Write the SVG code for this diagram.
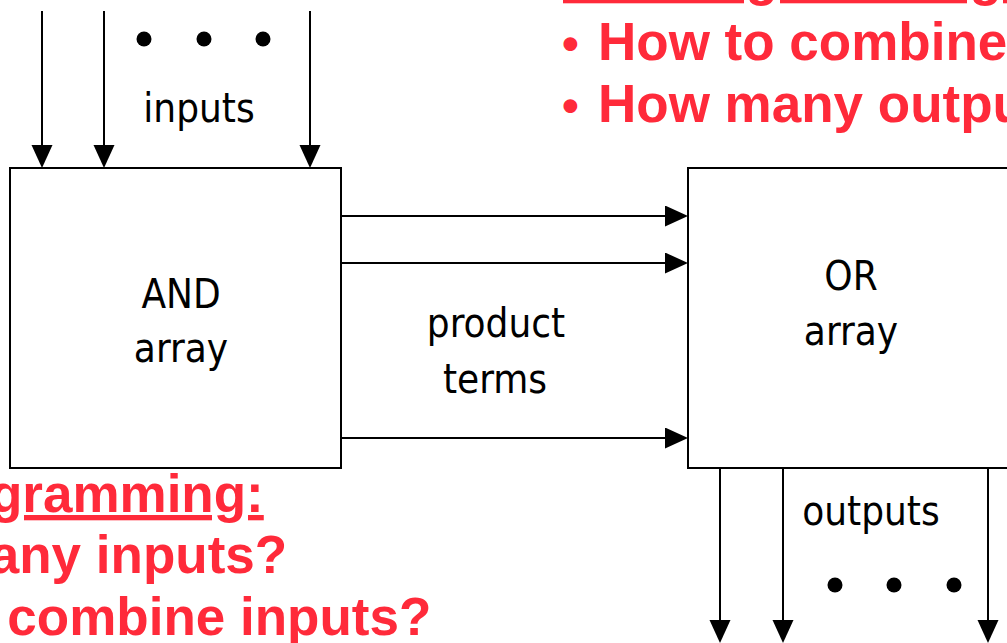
<svg xmlns="http://www.w3.org/2000/svg" width="1007" height="643" viewBox="0 0 1007 643">
<style>
.box{fill:#ffffff;stroke:#000000;stroke-width:2}
.wire{stroke:#000000;stroke-width:2;fill:none}
.lbl{font-family:"DejaVu Sans Condensed","DejaVu Sans",sans-serif;font-stretch:condensed;font-size:40px;fill:#000000;text-anchor:middle}
.red{font-family:"Liberation Sans",Arial,sans-serif;font-weight:bold;font-size:53px;fill:#ff2a3a}
.hd{text-decoration:underline}
.bul{font-size:48px}
.dot{fill:#000000}
</style>
<defs>
<marker id="ah" markerUnits="userSpaceOnUse" markerWidth="24" markerHeight="22" viewBox="0 0 24 22" refX="10" refY="10.5" orient="auto">
<path d="M0,0 L23,10.5 L0,21 Z" fill="#000000"/>
</marker>
</defs>
<rect width="1007" height="643" fill="#ffffff"/>
<g id="and-array">
<rect class="box" x="10" y="168" width="331" height="300"/>
<text class="lbl" x="181" y="308">AND</text>
<text class="lbl" x="181" y="362">array</text>
</g>
<g id="or-array">
<rect class="box" x="688" y="168" width="400" height="300"/>
<text class="lbl" x="851" y="290">OR</text>
<text class="lbl" x="851" y="345">array</text>
</g>
<g id="connectors">
<line class="wire" x1="42" y1="11" x2="42" y2="155" marker-end="url(#ah)"/>
<line class="wire" x1="104" y1="11" x2="104" y2="155" marker-end="url(#ah)"/>
<line class="wire" x1="310" y1="11" x2="310" y2="155" marker-end="url(#ah)"/>
<line class="wire" x1="341" y1="216" x2="675" y2="216" marker-end="url(#ah)"/>
<line class="wire" x1="341" y1="263" x2="675" y2="263" marker-end="url(#ah)"/>
<line class="wire" x1="341" y1="438" x2="675" y2="438" marker-end="url(#ah)"/>
<line class="wire" x1="720" y1="468" x2="720" y2="630" marker-end="url(#ah)"/>
<line class="wire" x1="783" y1="468" x2="783" y2="630" marker-end="url(#ah)"/>
<line class="wire" x1="988" y1="468" x2="988" y2="630" marker-end="url(#ah)"/>
</g>
<g id="inputs-label">
<circle class="dot" cx="144" cy="39" r="7.5"/>
<circle class="dot" cx="204" cy="39" r="7.5"/>
<circle class="dot" cx="263" cy="39" r="7.5"/>
<text class="lbl" x="199" y="122">inputs</text>
</g>
<g id="product-terms-label">
<text class="lbl" x="496" y="337">product</text>
<text class="lbl" x="495" y="393">terms</text>
</g>
<g id="outputs-label">
<text class="lbl" x="871" y="525">outputs</text>
<circle class="dot" cx="835" cy="585" r="7.5"/>
<circle class="dot" cx="894" cy="585" r="7.5"/>
<circle class="dot" cx="954" cy="585" r="7.5"/>
</g>
<g id="or-programming-note">
<text class="red hd" x="563" y="-5">OR Programming:</text>
<text class="red" x="562" y="60"><tspan class="bul">•</tspan><tspan x="598">How to combine inputs?</tspan></text>
<text class="red" x="562" y="122"><tspan class="bul">•</tspan><tspan x="598">How many outputs?</tspan></text>
</g>
<g id="and-programming-note">
<text class="red hd" x="-228" y="512">AND Programming:</text>
<text class="red" x="-220" y="573"><tspan class="bul">•</tspan><tspan x="-184">How many inputs?</tspan></text>
<text class="red" x="-220" y="635"><tspan class="bul">•</tspan><tspan x="-184">How to combine inputs?</tspan></text>
</g>
</svg>
